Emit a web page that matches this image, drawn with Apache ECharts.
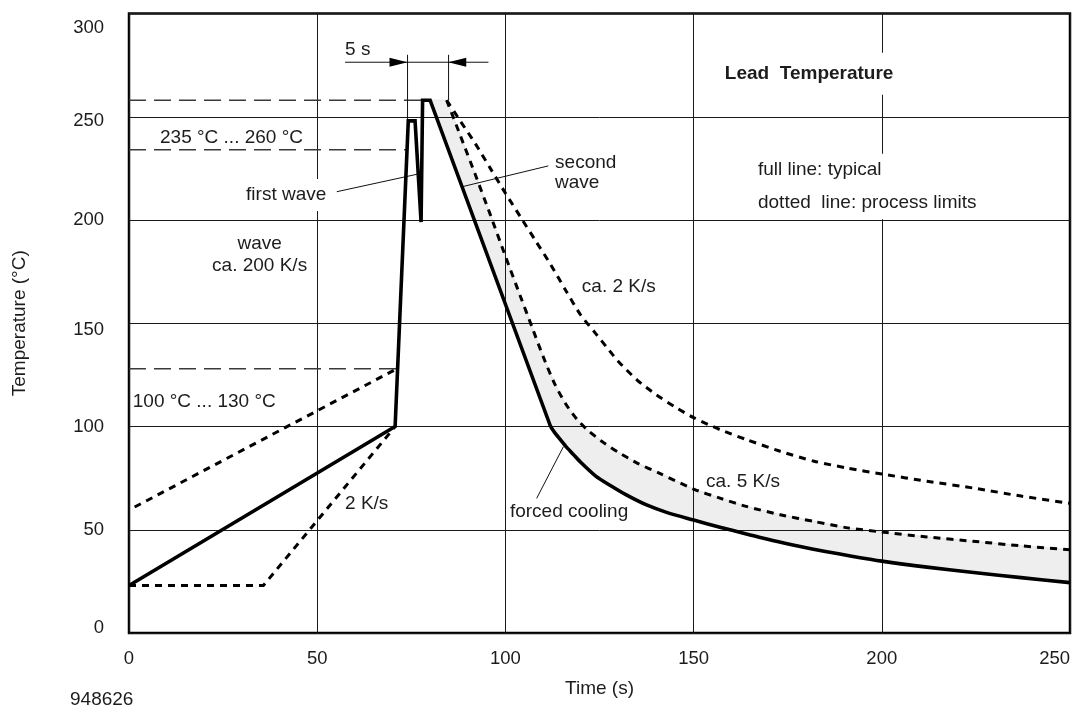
<!DOCTYPE html>
<html><head><meta charset="utf-8">
<script src="https://cdn.jsdelivr.net/npm/echarts@6/dist/echarts.min.js"></script>
<style>html,body{margin:0;padding:0;background:#fff}#c{width:1076px;height:707px}</style>
</head><body><div id="c"></div>
<script>
// ---------- data ----------
const xRange = [0, 250];
const yRange = [0, 300];
const tickStep = 50;

// typical profile (full line): preheat + waves, then cooling
const typicalHeat = [[0,23],[70.7,100],[74.2,248],[76,248],[77.6,199],[78,258],[80,258],[112,100]];
const typicalCool = [[112,100],[113,97.3],[114,95],[116,90.5],[118,86.6],[120,82.7],[124,76],[128,71.3],
  [132,67],[137.5,62],[143,58.3],[150,54.7],[157,51.2],[164,48],[171,44.8],[178,42],[185,39.5],
  [192,37.2],[200,34.8],[212,31.9],[225,29.2],[237,26.8],[250,24.4]];
// process limits (dotted lines)
const preheatMin = [[0,23],[35.7,23],[70.5,99.5]];
const preheatMax = [[1.5,61],[71.2,128]];
const coolFast = [[84.4,258],[88,241],[92,222],[96,202.5],[100,182.5],[104,163],[107,148.5],[110,134],
  [113,121],[116,111],[119,103.5],[122,98],[126,92.3],[130,87.5],[135,82.3],[141,77.3],[150,69.7],
  [157,65.3],[164,61.3],[173,57.3],[182,54],[191,50.9],[200,48.9],[212,46.5],[225,44.3],[237,42.2],[250,40.3]];
const coolSlow = [[84.4,258],[88,248],[92,237],[96,225],[100,213],[104,201.5],[108,190],[112,178.5],
  [116,166],[120,154],[124,145],[127,138.2],[130,131.5],[135,122.5],[140,115.5],[145,109.5],[150,104.3],
  [157,98.5],[164,93.7],[173,88],[182,83.2],[191,79.8],[200,77],[212,73.5],[225,70],[237,66.3],[250,62.8]];
// reference levels (long dashes): level, end time
const refLevels = [128, 234, 258];
const refEnds = [71.2, 74, 78];
// "5 s" dimension
const dimTimes = [74, 84.9];
const dimTop = 280;
const dimBottoms = [248, 258];
const dimBar = [[57.4,276.4],[95.5,276.4]];
const dimArrows = [[71.6,276.4],[87.2,276.4]];
// leader lines
const leaderFirst = [[55.2,213.7],[76.9,222.3]];
const leaderSecond = [[111.4,226.2],[88.7,216.2]];
const leaderCooling = [[108.3,65.2],[115.4,90.2]];
// annotation texts and anchors
const noteTexts = ['235 °C ... 260 °C','first wave','second\nwave','wave\nca. 200 K/s','100 °C ... 130 °C',
  '2 K/s','ca. 2 K/s','ca. 5 K/s','forced cooling','Lead  Temperature',
  'full line: typical\ndotted  line: process limits','5 s'];
const noteAnchors = [[8.24,239.2],[31.1,212.1],[113.2,222.8],[34.7,183.2],[1.0,112.0],
  [57.4,62.5],[120.3,167.7],[153.3,73.3],[101.2,58.7],[158.3,272.3],[167.1,216.2],[57.4,282.3]];

// ---------- styles ----------
const FONT = '"Liberation Sans", Arial, Helvetica, sans-serif';
const INK = '#1c1c1c';
const FS = 19;
const noteStyles = [
  {align:'left', lh:18, pad:[2,14,0,4], bg:true},
  {align:'left', lh:20, pad:[6,8,6,8], bg:true},
  {align:'left', lh:19.4},
  {align:'center', lh:22.7},
  {align:'left', lh:20},
  {align:'left', lh:20},
  {align:'left', lh:20},
  {align:'left', lh:20},
  {align:'left', lh:20},
  {align:'left', lh:20, pad:[8,10,14,10], bg:true, bold:true},
  {align:'left', lh:32.7, pad:[0,10,0,10], bg:true},
  {align:'left', lh:20}
];
const yLabelShift = {300:14.5, 250:4.5, 150:7, 0:-5.5};

const bandPoly = typicalHeat.slice(6).concat(typicalCool.slice(1), coolFast.slice().reverse());

function line(data, style, z, smooth) {
  return {type:'line', data, symbol:'none', showSymbol:false, silent:true, z: z || 3, smooth: smooth || false,
    lineStyle: Object.assign({color:'#000', cap:'butt', join:'miter', opacity:1}, style), emphasis:{disabled:true}};
}
const dotted = {width:3, type:[7,6]};
const thin = {width:1, color:'#111'};

const series = [];
series.push({type:'custom', z:-1, silent:true, data:[[0,0]],
  renderItem:(p, api) => ({type:'polygon', shape:{points: bandPoly.map(pt => api.coord(pt))},
    style:{fill:'#eeeeee', stroke:'#e2e2e2', lineWidth:1}})});
refLevels.forEach((lv, i) => series.push(line([[0, lv],[refEnds[i], lv]], {width:1.4, color:'#3a3a3a', type:[17,8]}, 2)));
series.push(line(preheatMin, dotted));
series.push(line(preheatMax, dotted));
series.push(line(coolFast, dotted, 3, 0.25));
series.push(line(coolSlow, dotted, 3, 0.25));
series.push(line(typicalHeat, {width:3.6}, 4));
series.push(line(typicalCool, {width:3.6, join:'round'}, 4, 0.25));
dimTimes.forEach((t, i) => series.push(line([[t, dimTop],[t, dimBottoms[i]]], thin)));
series.push(line(dimBar, thin));
series.push(line(leaderFirst, thin));
series.push(line(leaderSecond, thin));
series.push(line(leaderCooling, thin));
series.push({type:'scatter', silent:true, z:5, symbol:'triangle', symbolSize:[9,18],
  itemStyle:{color:'#000', opacity:1},
  data: dimArrows.map((c, i) => ({value:c, symbolRotate: i === 0 ? -90 : 90}))});
series.push({type:'scatter', silent:true, z:6, symbolSize:0.1, itemStyle:{color:'#fff', opacity:1},
  emphasis:{disabled:true},
  data: noteTexts.map((t, i) => {
    const s = noteStyles[i];
    const pad = s.pad || [0,0,0,0];
    const offX = s.align === 'left' ? -pad[3] : (s.align === 'right' ? pad[1] : (pad[1]-pad[3])/2);
    const offY = (pad[2] - pad[0]) / 2;
    return {value: noteAnchors[i], label: {show:true, position:'inside', formatter: t, opacity:1,
      align: s.align, verticalAlign:'middle', fontSize:FS, fontFamily:FONT, color:INK,
      fontWeight: s.bold ? 'bold' : 'normal', lineHeight: s.lh,
      padding: pad, backgroundColor: s.bg ? '#fff' : 'transparent', offset:[offX, offY]}};
  })});

const rich = {};
Object.keys(yLabelShift).forEach(k => {
  const sh = yLabelShift[k];
  rich['s' + k] = {fontSize:18.5, fontFamily:FONT, color:INK,
    padding: sh > 0 ? [2*sh,0,0,0] : [0,0,-2*sh,0]};
});

const chart = echarts.init(document.getElementById('c'), null, {renderer:'canvas'});
chart.setOption({
  animation:false,
  backgroundColor:'#fff',
  grid:{left:129, right:6, top:13.5, bottom:74, show:true, borderColor:'#000', borderWidth:2.5, backgroundColor:'transparent'},
  xAxis:{type:'value', min:xRange[0], max:xRange[1], interval:tickStep,
    name:'Time (s)', nameLocation:'middle', nameGap:46,
    nameTextStyle:{fontSize:FS, fontFamily:FONT, color:INK},
    axisLine:{show:false}, axisTick:{show:false},
    axisLabel:{fontSize:18.5, fontFamily:FONT, color:INK, margin:16, alignMaxLabel:'right'},
    splitLine:{show:true, lineStyle:{color:'#1a1a1a', width:1}}},
  yAxis:{type:'value', min:yRange[0], max:yRange[1], interval:tickStep,
    name:'Temperature (°C)', nameLocation:'middle', nameGap:100,
    nameTextStyle:{fontSize:FS, fontFamily:FONT, color:INK},
    axisLine:{show:false}, axisTick:{show:false},
    axisLabel:{fontSize:18.5, fontFamily:FONT, color:INK, margin:25,
      formatter: v => (yLabelShift[v] !== undefined ? '{s' + v + '|' + v + '}' : String(v)), rich},
    splitLine:{show:true, lineStyle:{color:'#1a1a1a', width:1}}},
  graphic:[{type:'text', left:70, top:690, style:{text:'948626', font: FS + 'px ' + FONT, fill:INK}}],
  series
});
</script></body></html>
